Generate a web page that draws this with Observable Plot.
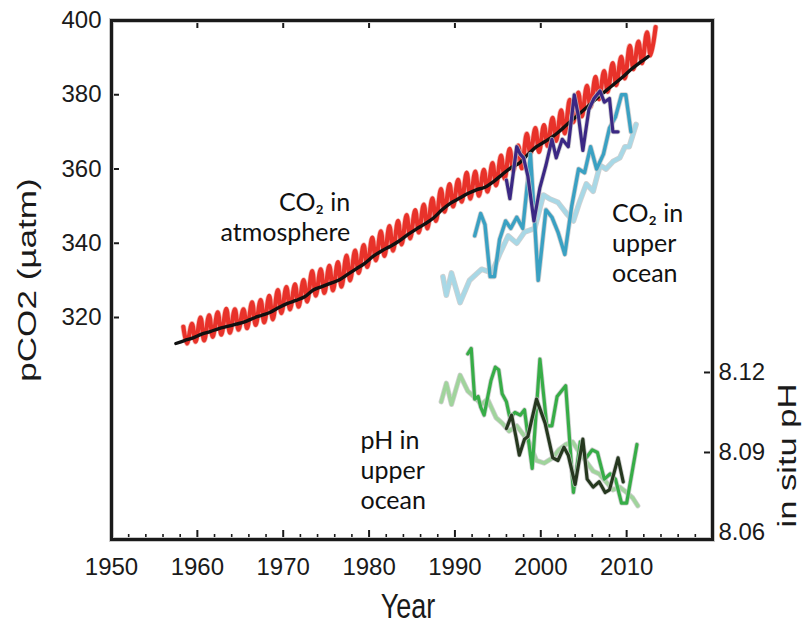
<!DOCTYPE html>
<html><head><meta charset="utf-8">
<script src="https://cdn.jsdelivr.net/npm/d3@7"></script>
<script src="https://cdn.jsdelivr.net/npm/@observablehq/plot@0.6"></script>
<style>body{margin:0;background:#fff}#chart{width:810px;height:625px}</style>
</head><body><div id="chart"></div>
<script>
// ---- Atmospheric CO2 (ppm / µatm) ----
const mloYears = d3.range(1958, 2014);
const mloPeak = [317.5,318.3,320.0,320.6,321.4,322.3,322.2,322.2,324.1,324.7,325.8,327.4,328.2,328.9,330.1,332.5,333.0,333.9,334.9,336.7,338.0,339.5,341.5,343.2,344.6,346.0,347.6,348.9,350.4,352.1,354.6,355.9,357.1,359.0,359.3,359.8,361.6,363.6,365.4,366.3,369.5,371.0,371.8,373.8,375.8,378.6,380.6,382.4,384.8,386.4,388.5,390.2,393.2,394.3,396.8,398.2];
const mloTrough = [313.0,313.5,313.8,314.8,315.4,315.9,316.7,317.1,318.0,318.7,319.5,321.2,322.2,322.9,324.3,325.9,326.6,327.3,328.3,330.0,332.0,333.6,335.4,336.6,338.0,339.7,341.3,342.9,344.0,346.0,348.5,349.9,351.2,352.0,352.8,353.9,355.6,357.4,359.5,360.2,364.1,364.6,366.2,367.6,369.6,372.6,374.2,376.7,378.8,380.8,382.6,384.4,386.9,388.5,390.6];
const spoYears = [1957.5,1958.5,1959.5,1960.5,1961.5,1962.5,1963.5,1964.5,1965.5,1966.5,1967.5,1968.5,1969.5,1970.5,1971.5,1972.5,1973.5,1974.5,1975.5,1976.5,1977.5,1978.5,1979.5,1980.5,1981.5,1982.5,1983.5,1984.5,1985.5,1986.5,1987.5,1988.5,1989.5,1990.5,1991.5,1992.5,1993.5,1994.5,1995.5,1996.5,1997.5,1998.5,1999.5,2000.5,2001.5,2002.5,2003.5,2004.5,2005.5,2006.5,2007.5,2008.5,2009.5,2010.5,2011.5,2012.5];
const spoValues = [313.0,313.8,314.5,315.5,316.2,317.0,317.6,318.2,318.8,319.8,320.6,321.4,322.7,323.8,324.6,325.6,327.4,328.3,329.2,330.1,331.6,333.1,334.6,336.5,338.0,339.2,340.6,342.3,343.8,345.2,346.8,349.0,350.8,352.1,353.4,354.4,355.1,356.6,358.5,360.3,361.6,363.9,366.0,367.4,368.9,370.8,372.9,374.9,376.9,379.0,380.9,382.8,384.7,386.8,388.6,390.3];

// ---- Upper-ocean pCO2 (µatm) ----
const hotYears = [1988.6,1989.0,1989.6,1990.6,1991.7,1993.1,1994.3,1995.2,1996.2,1997.2,1998.1,1999.3,2000.3,2001.0,2002.0,2003.0,2003.8,2004.5,2005.3,2006.1,2006.9,2007.6,2008.4,2009.2,2009.8,2010.3,2011.1];
const hotPco2 = [331,326,332,324,330,333,332,337,342,340,343,344,353,352,351,348,346,351,356,354,361,360,362,363,366,366,372];
const batsYears = [1992.3,1993.0,1993.5,1994.1,1994.6,1995.2,1995.9,1996.5,1997.2,1997.9,1998.8,1999.7,2000.6,2001.3,2002.0,2002.8,2003.6,2004.4,2005.1,2005.8,2006.5,2007.3,2008.0,2008.7,2009.4,2009.9,2010.5];
const batsPco2 = [342,348,345,331,331,341,346,344,347,344,364,330,349,347,343,337,350,360,359,366,360,364,371,374,380,380,370];
const estocYears = [1996.0,1996.4,1997.2,1997.6,1998.0,1998.5,1999.2,1999.9,2000.6,2001.3,2001.8,2002.5,2003.2,2003.9,2004.4,2004.9,2005.6,2006.2,2006.9,2007.4,2008.0,2008.4,2009.0];
const estocPco2 = [357,352,366,364,363,358,346,355,361,368,363,368,366,380,374,365,376,379,381,378,379,370,370];

// ---- Upper-ocean in situ pH ----
const hotPhYears = [1988.4,1989.0,1989.6,1990.6,1991.5,1992.2,1993.1,1993.8,1994.8,1995.5,1996.3,1997.2,1997.9,1998.6,1999.5,2000.4,2001.4,2002.1,2002.9,2003.7,2004.5,2005.2,2006.1,2006.8,2007.6,2008.4,2009.2,2010.0,2010.7,2011.3];
const hotPh = [8.109,8.116,8.108,8.119,8.113,8.111,8.108,8.110,8.103,8.101,8.098,8.100,8.097,8.094,8.087,8.086,8.088,8.091,8.093,8.094,8.090,8.087,8.083,8.082,8.079,8.076,8.077,8.075,8.073,8.070];
const batsPhYears = [1991.5,1991.9,1992.3,1992.7,1993.0,1993.4,1994.2,1994.7,1995.1,1995.5,1996.0,1996.4,1997.0,1997.6,1998.1,1999.0,1999.9,2000.7,2001.3,2001.9,2002.9,2003.8,2004.6,2005.3,2006.0,2006.6,2007.4,2008.1,2008.7,2009.4,2010.0,2011.2];
const batsPh = [8.127,8.129,8.110,8.111,8.107,8.104,8.117,8.122,8.121,8.112,8.109,8.103,8.105,8.104,8.106,8.084,8.125,8.100,8.100,8.111,8.115,8.075,8.094,8.088,8.091,8.090,8.080,8.082,8.080,8.071,8.071,8.093];
const estocPhYears = [1996.0,1996.6,1997.1,1997.5,1998.1,1998.5,1999.5,2000.5,2001.4,2002.0,2002.7,2003.2,2004.0,2004.9,2005.4,2006.1,2006.8,2007.5,2008.0,2009.0,2009.6];
const estocPh = [8.099,8.104,8.096,8.089,8.095,8.096,8.110,8.101,8.088,8.087,8.092,8.089,8.078,8.095,8.080,8.077,8.079,8.075,8.076,8.088,8.079];

// ---- Axes ----
const xMajor = [1950,1960,1970,1980,1990,2000,2010];
const xMinor = [1952,1954,1956,1958,1962,1964,1966,1968,1972,1974,1976,1978,1982,1984,1986,1988,1992,1994,1996,1998,2002,2004,2006,2008,2012,2014,2016,2018];
const yTicks = [320,340,360,380,400];
const phTicks = [8.06,8.09,8.12];

// ---- Annotations ----
const annoText = ["CO\u2082 in\natmosphere", "CO\u2082 in\nupper\nocean", "pH in\nupper\nocean"];
const annoYear = [1977.8, 2008.3, 1979.0];
const annoValue = [354.2, 351.5, 290.4];
const annoAnchor = ["end", "start", "start"];

// pH axis is a linear re-labelling of the pCO2 axis
const phToY = ph => 283.64 + (ph - 8.09) / 0.03 * 21.55;
const phLabel = new Map(phTicks.map(p => [phToY(p), p.toFixed(2)]));

const red = [];
mloYears.forEach((yr, i) => {
  red.push({x: yr + 0.37, y: mloPeak[i]});
  if (mloTrough[i] !== undefined) red.push({x: yr + 0.79, y: mloTrough[i]});
});
const spo = spoYears.map((x, i) => ({x, y: spoValues[i]}));
const tbl = (xs, ys, f = v => v) => xs.map((x, i) => ({x, y: f(ys[i])}));
const hot = tbl(hotYears, hotPco2), bats = tbl(batsYears, batsPco2), estoc = tbl(estocYears, estocPco2);
const hotP = tbl(hotPhYears, hotPh, phToY), batsP = tbl(batsPhYears, batsPh, phToY), estocP = tbl(estocPhYears, estocPh, phToY);
const anno = annoText.map((t, i) => ({t, x: annoYear[i], y: annoValue[i], a: annoAnchor[i]}));

const halo = (data, w) => Plot.line(data, {x: "x", y: "y", stroke: "#c4c4c4", strokeWidth: w + 1.6, strokeOpacity: 0.8, strokeLinejoin: "round"});
const line = (data, color, w) => Plot.line(data, {x: "x", y: "y", stroke: color, strokeWidth: w, strokeLinejoin: "round"});

const AX = "'Liberation Sans', Arial, Helvetica, sans-serif";
const frameW = 712 - 111, frameH = 539 - 20;

const chart = Plot.plot({
  width: 810, height: 625,
  marginLeft: 111, marginRight: 98, marginTop: 20, marginBottom: 86,
  x: {domain: [1950, 2020]},
  y: {domain: [260.2, 400]},
  style: {fontFamily: AX, background: "#fff", color: "#1a1a1a", overflow: "visible"},
  marks: [
    // atmosphere
    Plot.line(red, {x: "x", y: "y", stroke: "#f08a80", strokeWidth: 5.6, curve: "catmull-rom", strokeOpacity: 0.6}),
    Plot.line(red, {x: "x", y: "y", stroke: "#e8322a", strokeWidth: 4.2, curve: "catmull-rom"}),
    Plot.line(spo, {x: "x", y: "y", stroke: "#111", strokeWidth: 3.4, curve: "catmull-rom"}),
    // ocean pCO2
    halo(hot, 4), line(hot, "#a8d8e6", 4),
    halo(bats, 3.4), line(bats, "#3aa1c3", 3.4),
    halo(estoc, 3.2), line(estoc, "#3b2884", 3.2),
    // ocean pH
    halo(hotP, 3.6), line(hotP, "#a0d49c", 3.6),
    halo(batsP, 3.2), line(batsP, "#37ad47", 3.2),
    halo(estocP, 3.2), line(estocP, "#26381f", 3.2),
    // annotations
    Plot.text(anno.filter(d => d.a === "end"), {x: "x", y: "y", text: "t", textAnchor: "end", lineAnchor: "top", lineHeight: 1.17, fontSize: 25, fontFamily: "Lato, 'Open Sans', sans-serif", fill: "#111"}),
    Plot.text(anno.filter(d => d.a === "start"), {x: "x", y: "y", text: "t", textAnchor: "start", lineAnchor: "top", lineHeight: 1.2, fontSize: 25, fontFamily: "Lato, 'Open Sans', sans-serif", fill: "#111"}),
    // ticks (inward)
    Plot.ruleX(xMajor.slice(1), {x: d => d, insetTop: frameH - 9, stroke: "#1a1a1a", strokeWidth: 2}),
    Plot.ruleX(xMinor, {x: d => d, insetTop: frameH - 5, stroke: "#1a1a1a", strokeWidth: 1.6}),
    Plot.ruleX(xMajor.slice(1), {x: d => d, insetBottom: frameH - 8, stroke: "#1a1a1a", strokeWidth: 2}),
    Plot.ruleY(yTicks.slice(0, -1), {y: d => d, insetRight: frameW - 8, stroke: "#1a1a1a", strokeWidth: 2}),
    Plot.ruleY(phTicks.slice(1).map(phToY), {y: d => d, insetLeft: frameW - 8, stroke: "#1a1a1a", strokeWidth: 2}),
    Plot.frame({stroke: "#c8c8c8", strokeWidth: 5}),
    Plot.frame({stroke: "#1a1a1a", strokeWidth: 3}),
    // tick labels
    Plot.axisX({anchor: "bottom", ticks: xMajor, tickSize: 0, tickPadding: 18, tickFormat: d => String(d), fontSize: 24, label: null}),
    Plot.axisY({anchor: "left", ticks: yTicks, tickSize: 0, tickPadding: 10, fontSize: 24, label: null}),
    Plot.axisY({anchor: "right", ticks: [...phLabel.keys()], tickSize: 0, tickPadding: 6, tickFormat: d => phLabel.get(d), fontSize: 24, label: null}),
    // axis titles
    Plot.text(["pCO2 (µatm)"], {text: d => d, frameAnchor: "left", textAnchor: "middle", rotate: -90, dx: -76, fontSize: 26, fill: "#1a1a1a"}),
    Plot.text(["in situ pH"], {text: d => d, frameAnchor: "right", textAnchor: "middle", rotate: -90, dx: 83, dy: 175.5, fontSize: 26, fill: "#1a1a1a"}),
    Plot.text(["Year"], {text: d => d, frameAnchor: "bottom", textAnchor: "middle", lineAnchor: "bottom", dx: -4, dy: 78, fontSize: 27, fill: "#1a1a1a"})
  ]
});
document.getElementById("chart").appendChild(chart);

// the original figure's axis titles are stretched vertically
const stretch = {"pCO2 (µatm)": [1.35, 1], "in situ pH": [1.33, 1], "Year": [1, 1.3]};
chart.querySelectorAll("text").forEach(el => {
  const s = stretch[el.textContent];
  if (!s) return;
  const x = +el.getAttribute("x") || 0, y = +el.getAttribute("y") || 0;
  el.removeAttribute("x"); el.removeAttribute("y");
  const t = el.getAttribute("transform") || "";
  el.setAttribute("transform", `${t} translate(${x},${y}) scale(${s[0]},${s[1]})`);
});
</script>
</body></html>
